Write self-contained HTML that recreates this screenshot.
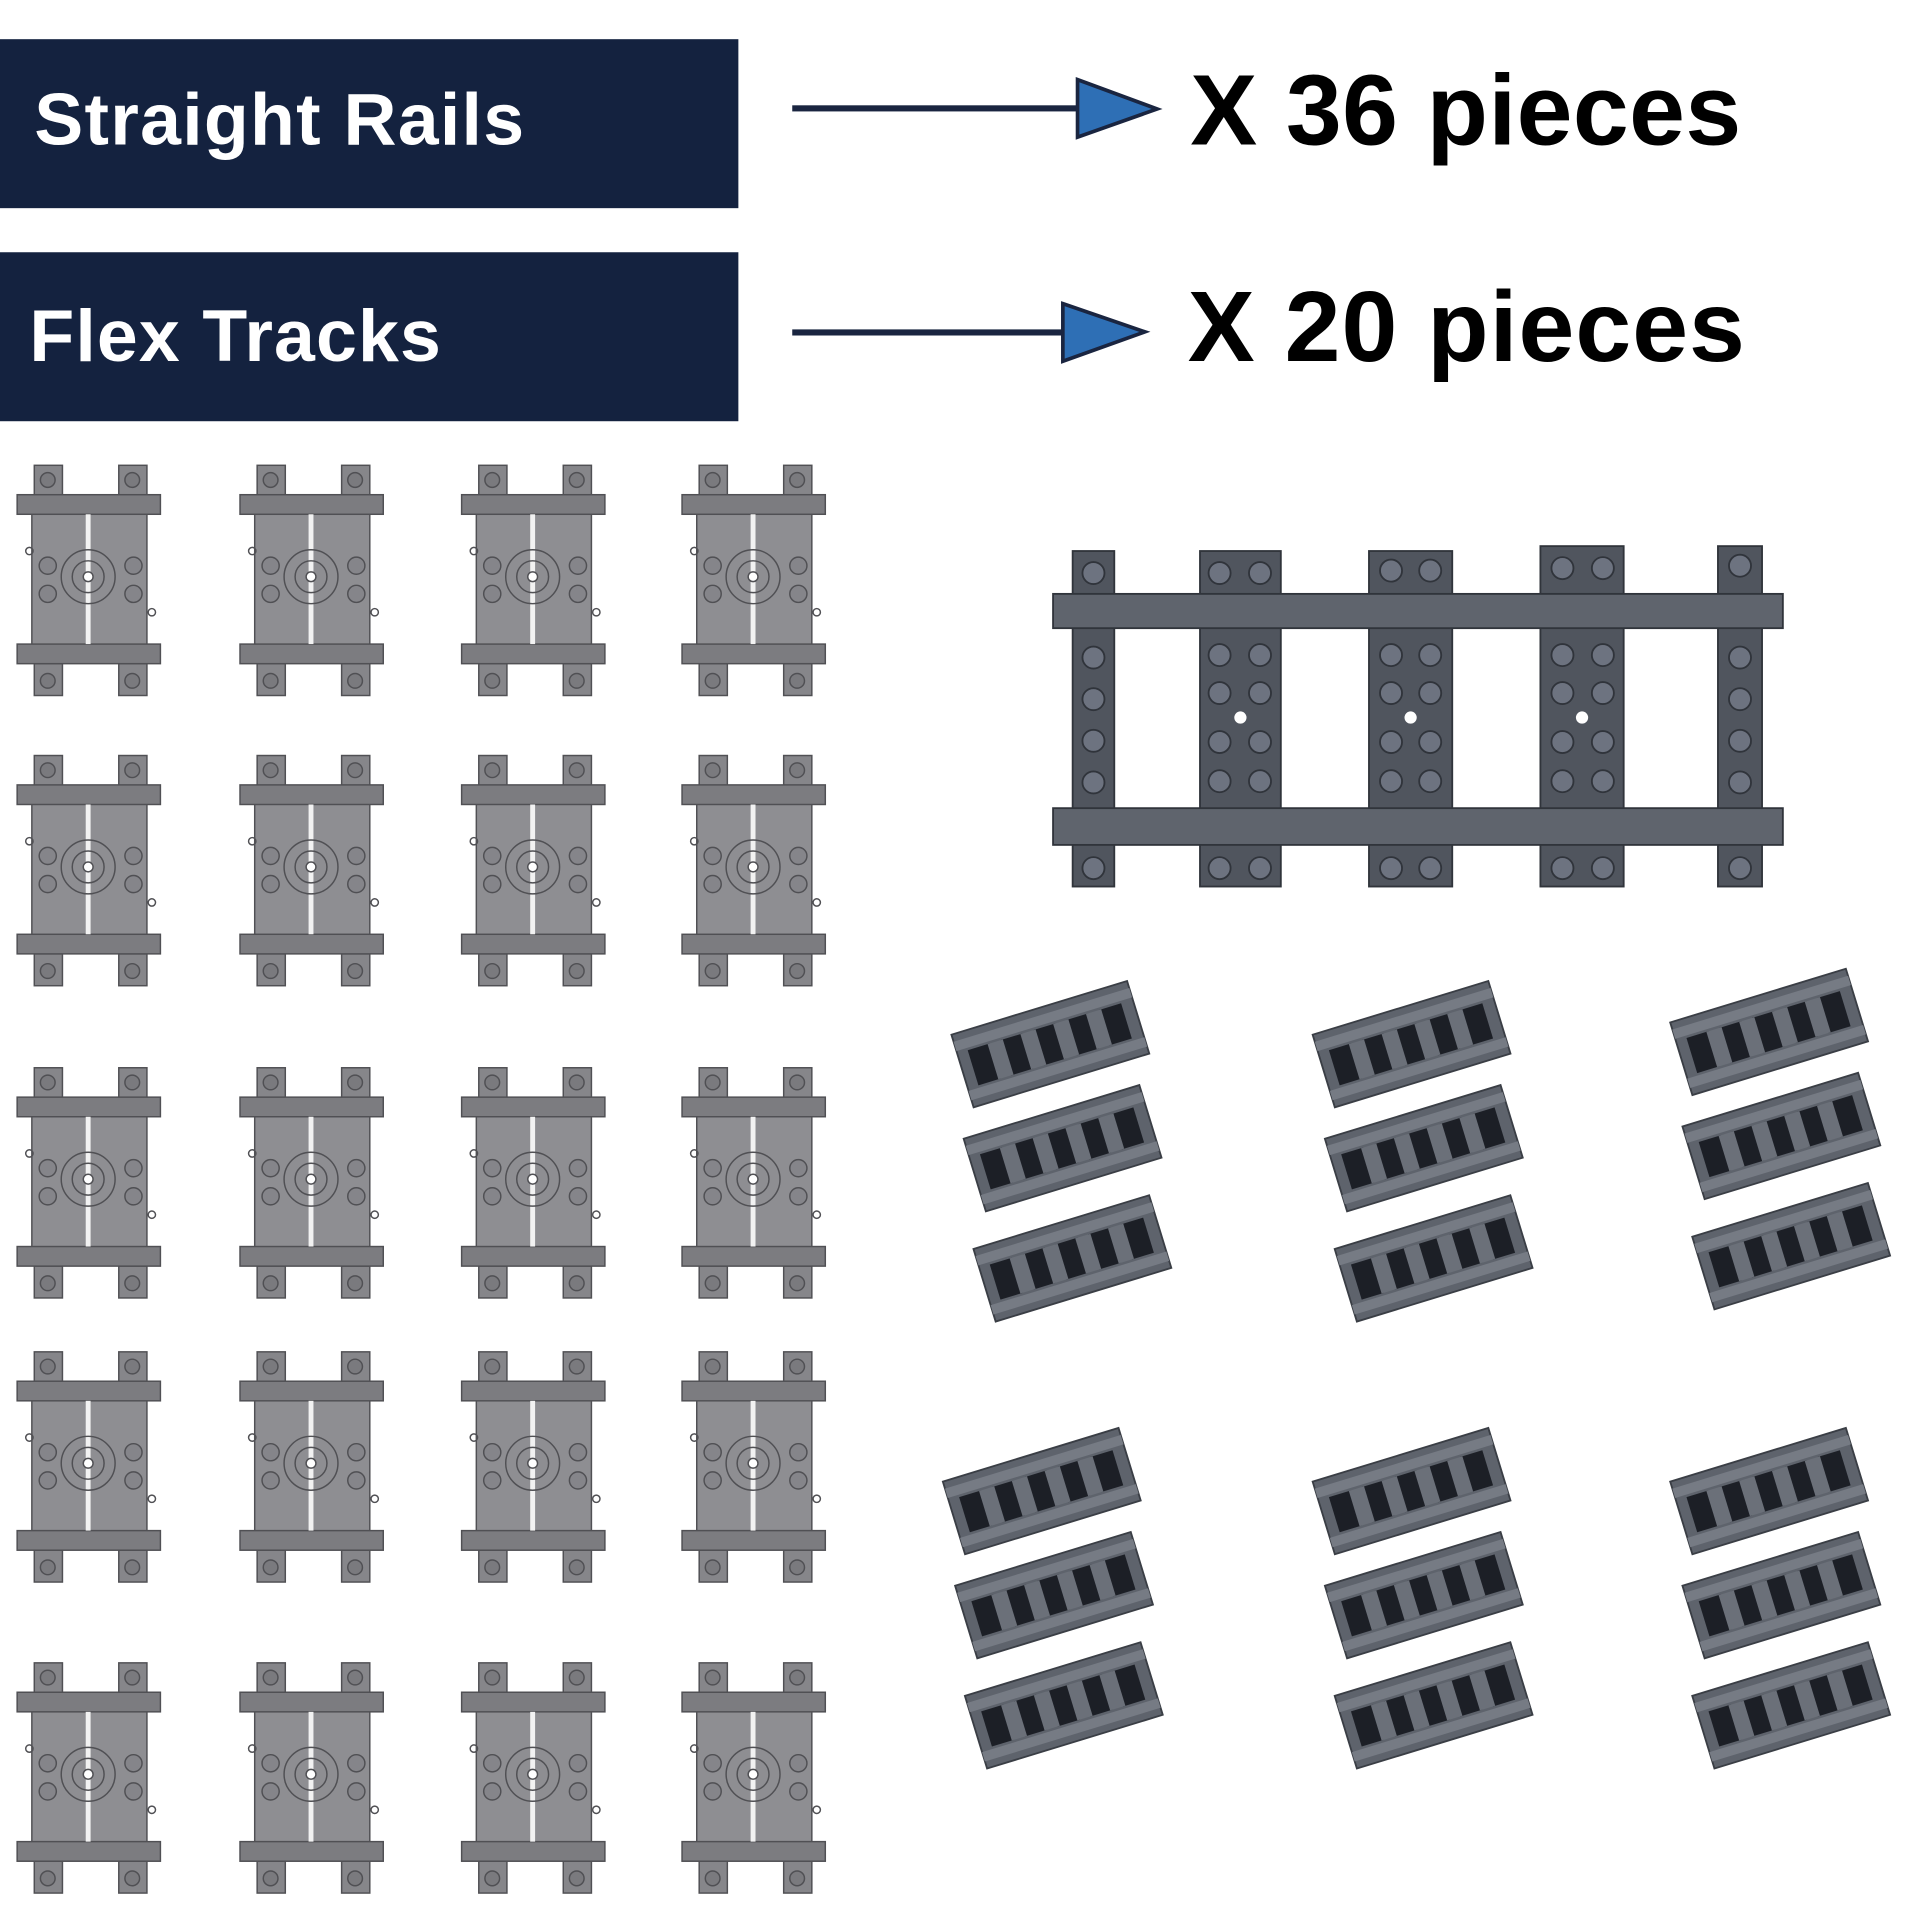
<!DOCTYPE html>
<html><head><meta charset="utf-8"><style>
html,body{margin:0;padding:0;background:#fff;}
svg{display:block}
</style></head><body>
<svg width="1920" height="1920" viewBox="0 0 1568 1568" xmlns="http://www.w3.org/2000/svg">
<defs>
<g id="flex" stroke="#505054" stroke-width="1.2">
  <rect x="14" y="0" width="23" height="26" fill="#86868a"/>
  <rect x="83" y="0" width="23" height="26" fill="#86868a"/>
  <rect x="14" y="162" width="23" height="26" fill="#86868a"/>
  <rect x="83" y="162" width="23" height="26" fill="#86868a"/>
  <circle cx="25" cy="12" r="6" fill="#7a7a7e"/><circle cx="94" cy="12" r="6" fill="#7a7a7e"/>
  <circle cx="25" cy="176" r="6" fill="#7a7a7e"/><circle cx="94" cy="176" r="6" fill="#7a7a7e"/>
  <rect x="12" y="38" width="94" height="110" fill="#8e8e92"/>
  <rect x="0" y="24" width="117" height="16" fill="#7c7c80"/>
  <rect x="0" y="146" width="117" height="16" fill="#7c7c80"/>
  <rect x="56" y="40" width="4" height="106" fill="#f2f2f2" stroke="none"/>
  <circle cx="58" cy="91" r="22" fill="none"/>
  <circle cx="58" cy="91" r="13" fill="none"/>
  <circle cx="58" cy="91" r="4" fill="#fff"/>
  <circle cx="25" cy="82" r="7" fill="#85858a"/><circle cx="25" cy="105" r="7" fill="#85858a"/>
  <circle cx="95" cy="82" r="7" fill="#85858a"/><circle cx="95" cy="105" r="7" fill="#85858a"/>
  <circle cx="10" cy="70" r="3" fill="none"/><circle cx="110" cy="120" r="3" fill="none"/>
</g>
<g id="mini">
  <rect x="0" y="0" width="150" height="62" fill="#5e636c" stroke="#3a3e45" stroke-width="1.5"/>
  <rect x="0" y="6" width="150" height="8" fill="#767b84"/>
  <rect x="0" y="48" width="150" height="8" fill="#767b84"/>
  <g fill="#1c1f26">
    <rect x="9" y="16" width="19" height="30"/><rect x="37" y="16" width="19" height="30"/>
    <rect x="65" y="16" width="19" height="30"/><rect x="93" y="16" width="19" height="30"/>
    <rect x="121" y="16" width="19" height="30"/>
  </g>
  <g fill="#6b7079">
    <rect x="26" y="16" width="13" height="30"/><rect x="54" y="16" width="13" height="30"/>
    <rect x="82" y="16" width="13" height="30"/><rect x="110" y="16" width="13" height="30"/>
  </g>
</g>
<g id="trio">
  <use href="#mini" transform="translate(12,45) rotate(-17)"/>
  <use href="#mini" transform="translate(22,130) rotate(-17)"/>
  <use href="#mini" transform="translate(30,220) rotate(-17)"/>
</g>
</defs>

<rect x="0" y="32" width="603" height="138" fill="#14223f"/>
<rect x="0" y="206" width="603" height="138" fill="#14223f"/>
<text x="28" y="118" font-family="Liberation Sans, sans-serif" font-weight="bold" font-size="60" fill="#fff" textLength="400">Straight Rails</text>
<text x="24" y="295" font-family="Liberation Sans, sans-serif" font-weight="bold" font-size="60" fill="#fff" textLength="336">Flex Tracks</text>

<rect x="647" y="86" width="235" height="5" fill="#1a2540"/>
<polygon points="880,65 945,89 880,112" fill="#2e6fb5" stroke="#1a2540" stroke-width="3"/>
<rect x="647" y="269" width="223" height="5" fill="#1a2540"/>
<polygon points="868,248 935,271 868,295" fill="#2e6fb5" stroke="#1a2540" stroke-width="3"/>

<text x="972" y="118" font-family="Liberation Sans, sans-serif" font-weight="bold" font-size="82" fill="#000" textLength="450">X 36 pieces</text>
<text x="970" y="295" font-family="Liberation Sans, sans-serif" font-weight="bold" font-size="82" fill="#000" textLength="455">X 20 pieces</text>

<g>
<use href="#flex" x="14" y="380"/><use href="#flex" x="196" y="380"/><use href="#flex" x="377" y="380"/><use href="#flex" x="557" y="380"/>
<use href="#flex" x="14" y="617"/><use href="#flex" x="196" y="617"/><use href="#flex" x="377" y="617"/><use href="#flex" x="557" y="617"/>
<use href="#flex" x="14" y="872"/><use href="#flex" x="196" y="872"/><use href="#flex" x="377" y="872"/><use href="#flex" x="557" y="872"/>
<use href="#flex" x="14" y="1104"/><use href="#flex" x="196" y="1104"/><use href="#flex" x="377" y="1104"/><use href="#flex" x="557" y="1104"/>
<use href="#flex" x="14" y="1358"/><use href="#flex" x="196" y="1358"/><use href="#flex" x="377" y="1358"/><use href="#flex" x="557" y="1358"/>
</g>

<g stroke="#30343b" stroke-width="1.5">
  <rect x="876" y="450" width="34" height="274" fill="#50555e"/>
  <rect x="980" y="450" width="66" height="274" fill="#50555e"/>
  <rect x="1118" y="450" width="68" height="274" fill="#50555e"/>
  <rect x="1258" y="446" width="68" height="278" fill="#50555e"/>
  <rect x="1403" y="446" width="36" height="278" fill="#50555e"/>
  <rect x="860" y="485" width="596" height="28" fill="#5f646d"/>
  <rect x="860" y="660" width="596" height="30" fill="#5f646d"/>
  <g fill="#6d7380">
    <circle cx="893" cy="468" r="9"/><circle cx="996" cy="468" r="9"/><circle cx="1029" cy="468" r="9"/>
    <circle cx="1136" cy="466" r="9"/><circle cx="1168" cy="466" r="9"/><circle cx="1276" cy="464" r="9"/><circle cx="1309" cy="464" r="9"/><circle cx="1421" cy="462" r="9"/>
    <circle cx="893" cy="709" r="9"/><circle cx="996" cy="709" r="9"/><circle cx="1029" cy="709" r="9"/>
    <circle cx="1136" cy="709" r="9"/><circle cx="1168" cy="709" r="9"/><circle cx="1276" cy="709" r="9"/><circle cx="1309" cy="709" r="9"/><circle cx="1421" cy="709" r="9"/>
    <circle cx="893" cy="537" r="9"/><circle cx="893" cy="571" r="9"/><circle cx="893" cy="605" r="9"/><circle cx="893" cy="639" r="9"/>
    <circle cx="1421" cy="537" r="9"/><circle cx="1421" cy="571" r="9"/><circle cx="1421" cy="605" r="9"/><circle cx="1421" cy="639" r="9"/>
    <circle cx="996" cy="535" r="9"/><circle cx="1029" cy="535" r="9"/><circle cx="996" cy="566" r="9"/><circle cx="1029" cy="566" r="9"/>
    <circle cx="996" cy="606" r="9"/><circle cx="1029" cy="606" r="9"/><circle cx="996" cy="638" r="9"/><circle cx="1029" cy="638" r="9"/>
    <circle cx="1136" cy="535" r="9"/><circle cx="1168" cy="535" r="9"/><circle cx="1136" cy="566" r="9"/><circle cx="1168" cy="566" r="9"/>
    <circle cx="1136" cy="606" r="9"/><circle cx="1168" cy="606" r="9"/><circle cx="1136" cy="638" r="9"/><circle cx="1168" cy="638" r="9"/>
    <circle cx="1276" cy="535" r="9"/><circle cx="1309" cy="535" r="9"/><circle cx="1276" cy="566" r="9"/><circle cx="1309" cy="566" r="9"/>
    <circle cx="1276" cy="606" r="9"/><circle cx="1309" cy="606" r="9"/><circle cx="1276" cy="638" r="9"/><circle cx="1309" cy="638" r="9"/>
  </g>
  <g fill="#fff" stroke="none"><circle cx="1013" cy="586" r="5"/><circle cx="1152" cy="586" r="5"/><circle cx="1292" cy="586" r="5"/></g>
</g>

<use href="#trio" x="765" y="800"/>
<use href="#trio" x="1060" y="800"/>
<use href="#trio" x="1352" y="790"/>
<use href="#trio" x="758" y="1165"/>
<use href="#trio" x="1060" y="1165"/>
<use href="#trio" x="1352" y="1165"/>
</svg>
</body></html>
